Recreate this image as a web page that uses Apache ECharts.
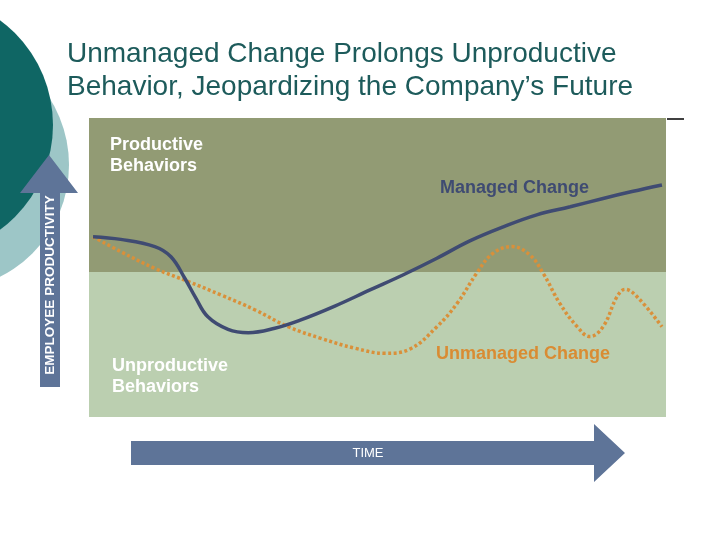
<!DOCTYPE html>
<html>
<head>
<meta charset="utf-8">
<script src="https://cdn.jsdelivr.net/npm/echarts@6/dist/echarts.min.js"></script>
<style>html,body{margin:0;padding:0;background:#fff}#c{width:720px;height:540px}</style>
</head>
<body>
<div id="c"></div>
<script>
// Managed change curve [time, productivity]
var managedX = [0.7, 5.5, 11.4, 14.2, 16.6, 18.4, 20.6, 24.1, 27.6, 32.2, 36.6, 42.6, 48.7, 54.4, 60.3, 66.0, 71.8, 77.6, 83.4, 89.1, 94.1, 99.3];
var managedY = [60.3, 59.4, 57.0, 53.6, 46.4, 40.2, 33.5, 29.3, 28.2, 29.7, 32.4, 37.1, 42.5, 47.5, 53.1, 58.9, 63.6, 67.6, 70.3, 73.1, 75.4, 77.6];
// Unmanaged change curve
var unmanagedX = [0.7, 5.5, 11.4, 17.2, 22.9, 28.8, 34.5, 40.2, 46.1, 51.3, 55.6, 60.3, 63.8, 67.2, 70.0, 73.3, 76.4, 78.7, 81.6, 84.6, 86.8, 89.1, 91.5, 92.9, 95.0, 99.3];
var unmanagedY = [60.3, 55.3, 49.7, 45.3, 40.8, 35.8, 30.2, 26.3, 23.0, 21.3, 22.7, 30.2, 38.0, 48.1, 54.7, 57.0, 54.2, 48.1, 38.0, 30.2, 26.9, 30.2, 40.2, 42.7, 40.2, 30.2];
// Band boundary between productive / unproductive zones
var bandSplit = 48.5;
var titleLines = ["Unmanaged Change Prolongs Unproductive", "Behavior, Jeopardizing the Company\u2019s Future"];

function zip(a, b) { return a.map(function (v, i) { return [v, b[i]]; }); }

var chart = echarts.init(document.getElementById('c'));
var font = '"Liberation Sans", Arial, sans-serif';
chart.setOption({
  animation: false,
  grid: { left: 89, right: 54, top: 118, bottom: 123 },
  xAxis: { type: 'value', min: 0, max: 100, show: false },
  yAxis: { type: 'value', min: 0, max: 100, show: false },
  graphic: [
    { type: 'circle', shape: { cx: -56, cy: 165, r: 125 }, style: { fill: '#9DC6C7' }, z: 0 },
    { type: 'circle', shape: { cx: -77, cy: 125, r: 130 }, style: { fill: '#0F6664' }, z: 1 },
    { type: 'polygon', shape: { points: [[40, 387], [40, 193], [20, 193], [49, 155], [78, 193], [60, 193], [60, 387]] }, style: { fill: '#5E7498' }, z: 2 },
    { type: 'text', x: 50, y: 285, rotation: Math.PI / 2, style: { text: 'EMPLOYEE PRODUCTIVITY', fill: '#fff', font: 'bold 13.5px ' + font, align: 'center', verticalAlign: 'middle' }, z: 3 },
    { type: 'polygon', shape: { points: [[131, 441], [594, 441], [594, 424], [625, 453], [594, 482], [594, 465], [131, 465]] }, style: { fill: '#5E7498' }, z: 2 },
    { type: 'text', x: 368, y: 453, style: { text: 'TIME', fill: '#fff', font: '13px ' + font, align: 'center', verticalAlign: 'middle' }, z: 3 },
    { type: 'text', x: 67, y: 38, style: { text: titleLines.join('\n'), fill: '#1D5B5B', font: '28px ' + font, lineHeight: 33, verticalAlign: 'top' }, z: 3 },
    { type: 'line', shape: { x1: 667, y1: 119, x2: 684, y2: 119 }, style: { stroke: '#000', lineWidth: 1.5 }, z: 3 },
    { type: 'text', x: 110, y: 134.5, style: { text: 'Productive\nBehaviors', fill: '#fff', font: 'bold 18px ' + font, lineHeight: 21, verticalAlign: 'top' }, z: 10 },
    { type: 'text', x: 112, y: 355.5, style: { text: 'Unproductive\nBehaviors', fill: '#fff', font: 'bold 18px ' + font, lineHeight: 21, verticalAlign: 'top' }, z: 10 },
    { type: 'text', x: 440, y: 188, style: { text: 'Managed Change', fill: '#3F4B72', font: 'bold 18px ' + font, verticalAlign: 'middle' }, z: 10 },
    { type: 'text', x: 436, y: 354, style: { text: 'Unmanaged Change', fill: '#D98C33', font: 'bold 18px ' + font, verticalAlign: 'middle' }, z: 10 }
  ],
  series: [
    {
      type: 'line', data: zip(unmanagedX, unmanagedY), smooth: 0.4, symbol: 'none',
      lineStyle: { color: '#D9903A', width: 3.5, type: [3, 2.5] }, z: 5,
      markArea: {
        silent: true,
        data: [
          [{ yAxis: bandSplit, itemStyle: { color: '#929B74' } }, { yAxis: 100 }],
          [{ yAxis: 0, itemStyle: { color: '#BBCFB0' } }, { yAxis: bandSplit }]
        ]
      }
    },
    {
      type: 'line', data: zip(managedX, managedY), smooth: 0.4, symbol: 'none',
      lineStyle: { color: '#3F4B72', width: 3.5 }, z: 6
    }
  ]
});
</script>
</body>
</html>
